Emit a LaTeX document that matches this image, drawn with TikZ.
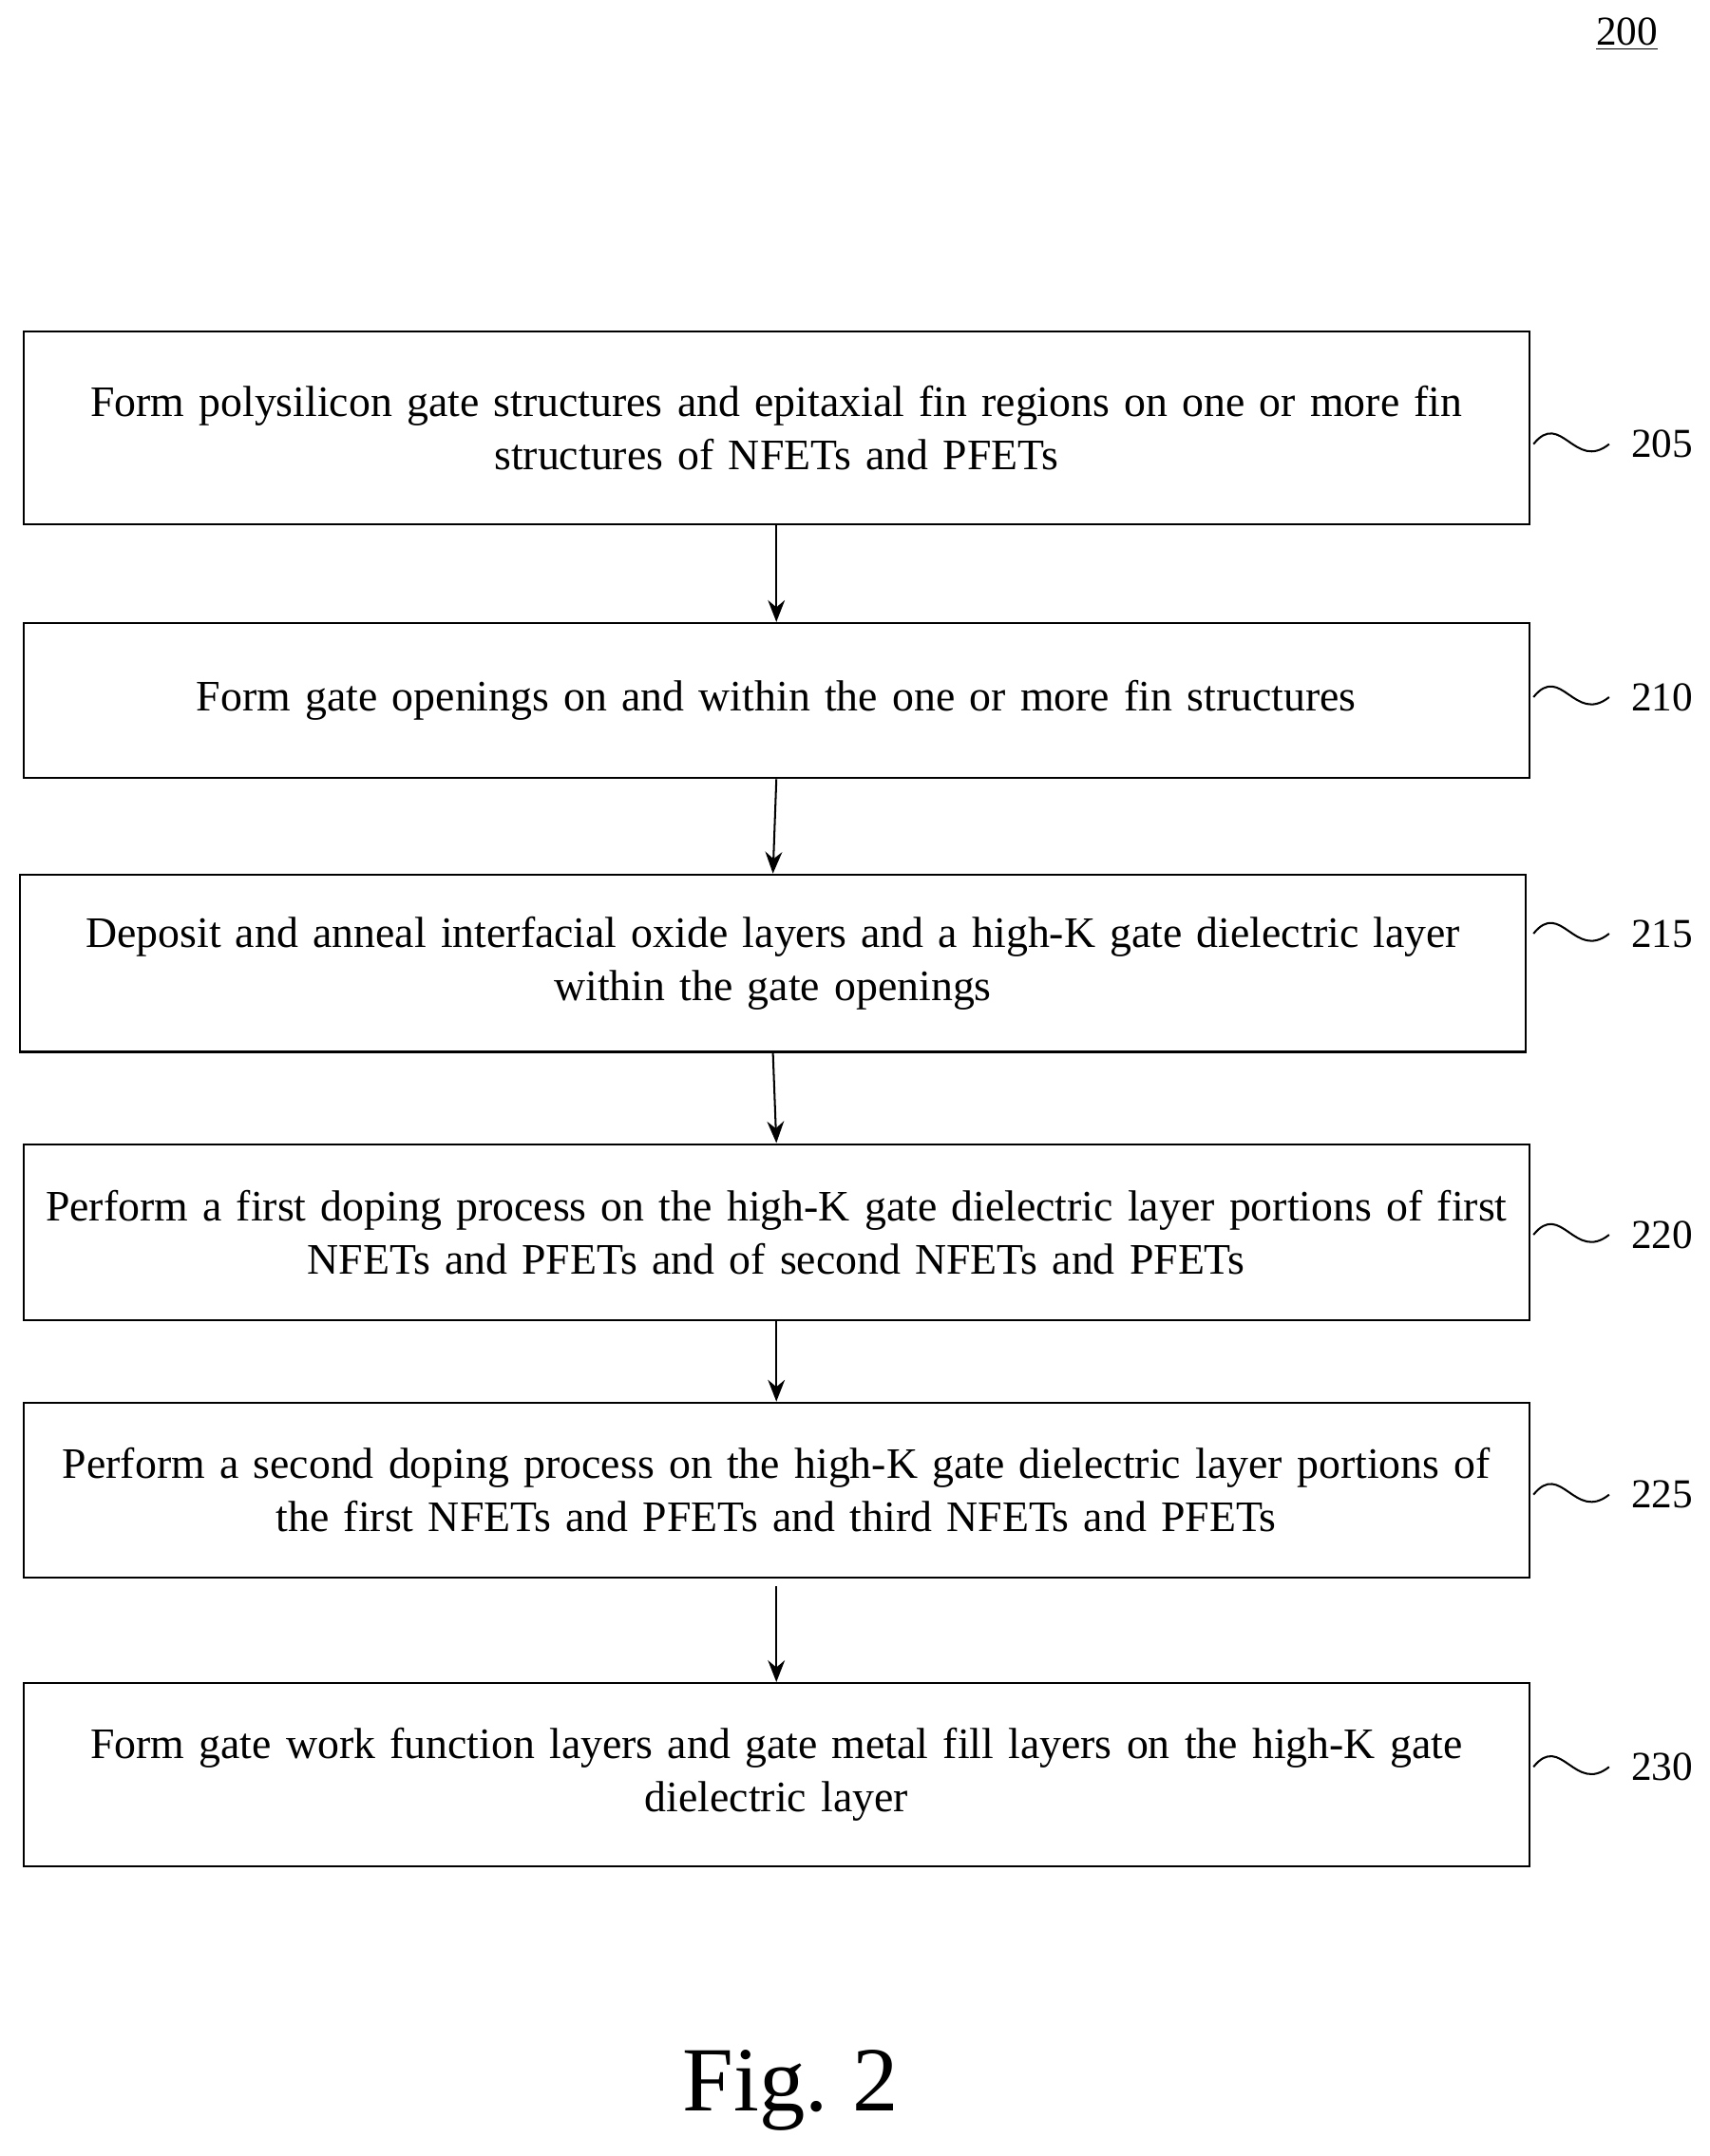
\documentclass[tikz,border=0pt]{standalone}
\usepackage{fontspec}
\setmainfont[WordSpace=0.75]{Liberation Serif}
\usetikzlibrary{arrows.meta}
\tikzset{
	procbox/.style={draw, thick, minimum width=21.9cm, align=center, inner sep=0pt,
		font=\fontsize{18}{22}\selectfont, text width=21.6cm},
	flow/.style={thick, -{Stealth[length=9pt,width=7pt]}},
	tag/.style={font=\fontsize{17}{20}\selectfont, anchor=west}
}
\begin{document}
\begin{tikzpicture}[x=0.02cm,y=-0.02cm]
	
	\useasboundingbox (0,0) rectangle (1243,1568);
	
	\node [font=\fontsize{17}{20}\selectfont] (fig) at (1183,25) {\underline{200}};
	
	\node [procbox, minimum height=2.8cm] (s205) at (564.5,311) {Form polysilicon gate structures and epitaxial fin regions on one or more fin\\structures of NFETs and PFETs};
	\node [procbox, minimum height=2.26cm] (s210) at (564.5,509.5) {Form gate openings on and within the one or more fin structures};
	\node [procbox, minimum height=2.58cm] (s215) at (562,700.5) {Deposit and anneal interfacial oxide layers and a high-K gate dielectric layer\\within the gate openings};
	\node [procbox, minimum height=2.56cm] (s220) at (564.5,896) {Perform a first doping process on the high-K gate dielectric layer portions of first\\NFETs and PFETs and of second NFETs and PFETs};
	\node [procbox, minimum height=2.54cm] (s225) at (564.5,1083.5) {Perform a second doping process on the high-K gate dielectric layer portions of\\the first NFETs and PFETs and third NFETs and PFETs};
	\node [procbox, minimum height=2.66cm] (s230) at (564.5,1290.5) {Form gate work function layers and gate metal fill layers on the high-K gate\\dielectric layer};
	
	\draw [flow] (s205.south) -- (s210.north);
	\draw [flow] (s210.south) -- (s215.north);
	\draw [flow] (s215.south) -- (s220.north);
	\draw [flow] (s220.south) -- (s225.north);
	\draw [flow] ([yshift=-0.12cm]s225.south) -- (s230.north);
	
	% reference numerals
	\foreach \s/\y in {205/323, 210/507, 215/679, 220/898, 225/1087, 230/1285}{
		\coordinate (c\s) at (1170,\y);
		\draw [thick] (1115,\y) .. controls (1135,\y-25) and (1145,\y+20) .. (c\s);
		\node [tag] (t\s) at (1180,\y) {\s};
	}
	
	\node [font=\fontsize{38}{44}\selectfont] (cap) at (575,1520) {Fig. 2};
	
\end{tikzpicture}
\end{document}
